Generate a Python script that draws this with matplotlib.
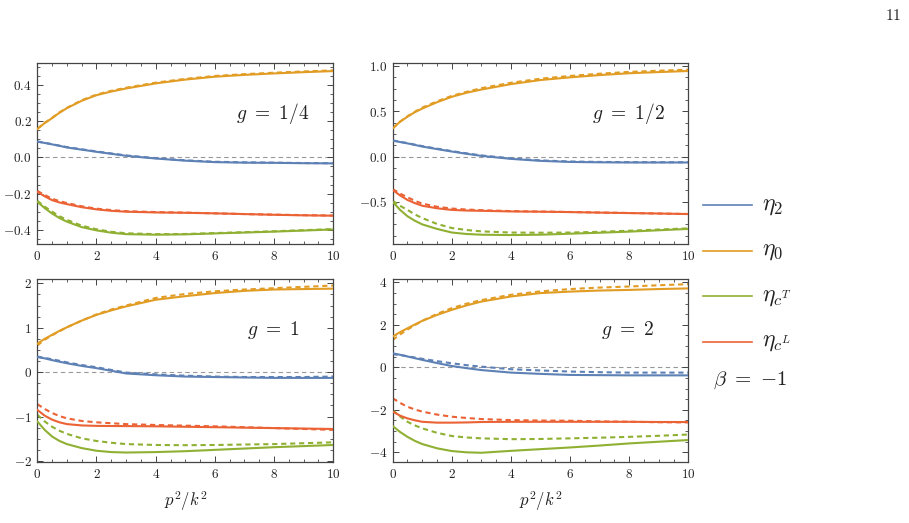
import matplotlib
matplotlib.use("Agg")
import matplotlib.pyplot as plt
from matplotlib.ticker import MultipleLocator, FixedLocator, FixedFormatter

plt.rcParams['mathtext.fontset'] = 'cm'
plt.rcParams['font.family'] = ['DejaVu Serif']

# ---------------- data ----------------
x = [0, 0.25, 0.5, 0.75, 1, 1.5, 2, 2.5, 3, 4, 5, 6, 7, 8, 9, 10]

panel_titles = [r'$g\ =\ 1/4$', r'$g\ =\ 1/2$', r'$g\ =\ 1$', r'$g\ =\ 2$']

# g = 1/4
eta0_a   = [0.157, 0.19, 0.217, 0.247, 0.272, 0.313, 0.344, 0.364, 0.381, 0.409, 0.43, 0.446, 0.456, 0.464, 0.471, 0.477]
eta0_a_d = [0.158, 0.191, 0.219, 0.249, 0.274, 0.316, 0.347, 0.368, 0.385, 0.413, 0.434, 0.450, 0.460, 0.468, 0.475, 0.481]
eta2_a   = [0.087, 0.080, 0.072, 0.064, 0.055, 0.043, 0.031, 0.020, 0.009, -0.006, -0.018, -0.026, -0.029, -0.030, -0.032, -0.033]
eta2_a_d = [0.088, 0.081, 0.073, 0.065, 0.057, 0.045, 0.033, 0.022, 0.011, -0.004, -0.016, -0.024, -0.027, -0.029, -0.031, -0.032]
etaL_a   = [-0.19, -0.215, -0.236, -0.249, -0.258, -0.275, -0.287, -0.295, -0.30, -0.304, -0.306, -0.309, -0.313, -0.317, -0.320, -0.322]
etaL_a_d = [-0.185, -0.208, -0.228, -0.242, -0.252, -0.27, -0.283, -0.291, -0.297, -0.302, -0.305, -0.309, -0.313, -0.316, -0.319, -0.321]
etaT_a   = [-0.245, -0.28, -0.31, -0.335, -0.355, -0.385, -0.403, -0.416, -0.424, -0.427, -0.425, -0.42, -0.415, -0.41, -0.404, -0.398]
etaT_a_d = [-0.24, -0.272, -0.30, -0.325, -0.345, -0.377, -0.397, -0.411, -0.419, -0.424, -0.423, -0.418, -0.413, -0.408, -0.402, -0.396]

# g = 1/2
eta0_b   = [0.31, 0.385, 0.44, 0.49, 0.53, 0.60, 0.66, 0.705, 0.74, 0.80, 0.845, 0.875, 0.90, 0.92, 0.933, 0.945]
eta0_b_d = [0.31, 0.385, 0.445, 0.495, 0.54, 0.61, 0.67, 0.715, 0.755, 0.815, 0.86, 0.89, 0.915, 0.935, 0.948, 0.96]
eta2_b   = [0.176, 0.16, 0.145, 0.128, 0.11, 0.082, 0.055, 0.03, 0.007, -0.026, -0.048, -0.06, -0.064, -0.066, -0.066, -0.066]
eta2_b_d = [0.178, 0.163, 0.148, 0.131, 0.115, 0.087, 0.06, 0.035, 0.012, -0.02, -0.043, -0.055, -0.06, -0.062, -0.063, -0.063]
etaL_b   = [-0.37, -0.43, -0.48, -0.515, -0.544, -0.572, -0.59, -0.597, -0.60, -0.607, -0.61, -0.614, -0.62, -0.625, -0.63, -0.636]
etaL_b_d = [-0.36, -0.41, -0.45, -0.49, -0.52, -0.555, -0.575, -0.586, -0.593, -0.603, -0.608, -0.613, -0.619, -0.624, -0.63, -0.635]
etaT_b   = [-0.50, -0.59, -0.66, -0.71, -0.75, -0.80, -0.84, -0.856, -0.864, -0.868, -0.864, -0.853, -0.842, -0.83, -0.815, -0.80]
etaT_b_d = [-0.49, -0.545, -0.59, -0.64, -0.68, -0.745, -0.79, -0.812, -0.827, -0.84, -0.842, -0.84, -0.832, -0.82, -0.807, -0.794]

# g = 1
eta0_c   = [0.64, 0.75, 0.84, 0.93, 1.01, 1.16, 1.29, 1.39, 1.48, 1.63, 1.71, 1.78, 1.83, 1.86, 1.87, 1.88]
eta0_c_d = [0.60, 0.73, 0.83, 0.92, 1.01, 1.16, 1.30, 1.41, 1.50, 1.67, 1.76, 1.82, 1.86, 1.89, 1.92, 1.95]
eta2_c   = [0.34, 0.31, 0.27, 0.235, 0.20, 0.14, 0.09, 0.03, -0.03, -0.07, -0.10, -0.11, -0.12, -0.13, -0.13, -0.13]
eta2_c_d = [0.35, 0.32, 0.29, 0.255, 0.22, 0.16, 0.11, 0.05, -0.01, -0.05, -0.08, -0.10, -0.11, -0.11, -0.11, -0.10]
etaL_c   = [-0.85, -0.98, -1.07, -1.13, -1.17, -1.20, -1.21, -1.213, -1.215, -1.22, -1.23, -1.24, -1.25, -1.26, -1.27, -1.28]
etaL_c_d = [-0.72, -0.83, -0.92, -0.99, -1.04, -1.10, -1.13, -1.15, -1.17, -1.19, -1.205, -1.22, -1.24, -1.26, -1.28, -1.30]
etaT_c   = [-1.11, -1.30, -1.45, -1.55, -1.62, -1.71, -1.77, -1.80, -1.81, -1.80, -1.78, -1.75, -1.72, -1.69, -1.665, -1.64]
etaT_c_d = [-0.96, -1.11, -1.23, -1.32, -1.39, -1.49, -1.55, -1.59, -1.62, -1.64, -1.645, -1.64, -1.63, -1.62, -1.60, -1.58]

# g = 2
eta0_d   = [1.45, 1.66, 1.84, 2.02, 2.19, 2.47, 2.71, 2.92, 3.10, 3.34, 3.50, 3.57, 3.62, 3.65, 3.69, 3.72]
eta0_d_d = [1.29, 1.55, 1.78, 1.99, 2.19, 2.52, 2.79, 3.00, 3.17, 3.42, 3.58, 3.69, 3.76, 3.81, 3.87, 3.92]
eta2_d   = [0.66, 0.59, 0.51, 0.43, 0.35, 0.20, 0.06, -0.04, -0.13, -0.25, -0.31, -0.36, -0.37, -0.38, -0.38, -0.38]
eta2_d_d = [0.62, 0.58, 0.52, 0.46, 0.40, 0.29, 0.19, 0.10, 0.03, -0.09, -0.15, -0.20, -0.23, -0.25, -0.25, -0.25]
etaL_d   = [-2.09, -2.28, -2.41, -2.50, -2.57, -2.61, -2.61, -2.60, -2.58, -2.57, -2.57, -2.57, -2.57, -2.57, -2.58, -2.58]
etaL_d_d = [-1.46, -1.68, -1.86, -1.99, -2.09, -2.23, -2.33, -2.39, -2.44, -2.49, -2.51, -2.52, -2.55, -2.57, -2.59, -2.60]
etaT_d   = [-2.77, -3.05, -3.28, -3.47, -3.62, -3.82, -3.95, -4.01, -4.03, -3.94, -3.86, -3.78, -3.69, -3.59, -3.51, -3.43]
etaT_d_d = [-2.02, -2.32, -2.57, -2.74, -2.88, -3.09, -3.24, -3.31, -3.35, -3.39, -3.38, -3.35, -3.32, -3.28, -3.23, -3.17]

panels = [
    [(eta2_a, eta2_a_d), (eta0_a, eta0_a_d), (etaT_a, etaT_a_d), (etaL_a, etaL_a_d)],
    [(eta2_b, eta2_b_d), (eta0_b, eta0_b_d), (etaT_b, etaT_b_d), (etaL_b, etaL_b_d)],
    [(eta2_c, eta2_c_d), (eta0_c, eta0_c_d), (etaT_c, etaT_c_d), (etaL_c, etaL_c_d)],
    [(eta2_d, eta2_d_d), (eta0_d, eta0_d_d), (etaT_d, etaT_d_d), (etaL_d, etaL_d_d)],
]

series_labels = [r'$\eta_2$', r'$\eta_0$', r'$\eta_{c^T}$', r'$\eta_{c^L}$']
colors = ['#5E81B5', '#E19C24', '#8FB032', '#EB6235']

yticks = [[0.4, 0.2, 0.0, -0.2, -0.4], [1.0, 0.5, 0.0, -0.5], [2, 1, 0, -1, -2], [4, 2, 0, -2, -4]]
ytick_labels = [['0.4', '0.2', '0.0', '-0.2', '-0.4'], ['1.0', '0.5', '0.0', '-0.5'],
                ['2', '1', '0', '-1', '-2'], ['4', '2', '0', '-2', '-4']]
ylims = [(-0.48, 0.52), (-0.97, 1.03), (-2.03, 2.09), (-4.48, 4.15)]
yminor = [0.05, 0.125, 0.25, 0.5]
xticks = [0, 2, 4, 6, 8, 10]

# ---------------- figure ----------------
W, H = 909, 523
fig = plt.figure(figsize=(W / 100, H / 100), dpi=100)

boxes = [(37.3, 63.3, 333.3, 244.3), (392.7, 63.3, 688.3, 244.3),
         (37.3, 279.3, 333.3, 462.3), (392.7, 279.3, 688.3, 462.3)]
title_pos = [(0.796, 0.725), (0.796, 0.725), (0.796, 0.723), (0.796, 0.723)]

frame_c = '#444444'
for i, (l, t, r, b) in enumerate(boxes):
    ax = fig.add_axes([l / W, 1 - b / H, (r - l) / W, (b - t) / H])
    ax.axhline(0, color='#999999', lw=0.8, ls=(0, (4, 3)), zorder=1)
    for k, (sol, dash) in enumerate(panels[i]):
        ax.plot(x, dash, color=colors[k], lw=1.5, ls=(0, (2.5, 1.8)), zorder=2)
        ax.plot(x, sol, color=colors[k], lw=1.5, zorder=3)
    ax.set_xlim(0, 10)
    ax.set_ylim(*ylims[i])
    ax.xaxis.set_major_locator(FixedLocator(xticks))
    ax.xaxis.set_minor_locator(MultipleLocator(0.5))
    ax.set_xticklabels(['$%d$' % v for v in xticks])
    ax.yaxis.set_major_locator(FixedLocator(yticks[i]))
    ax.yaxis.set_major_formatter(FixedFormatter(['$%s$' % s for s in ytick_labels[i]]))
    ax.yaxis.set_minor_locator(MultipleLocator(yminor[i]))
    ax.tick_params(which='both', direction='in', top=True, right=True, colors=frame_c,
                   labelcolor='#222222', labelsize=9.5, pad=4)
    ax.tick_params(which='major', length=4, width=0.7)
    ax.tick_params(which='minor', length=2.2, width=0.6)
    for s in ax.spines.values():
        s.set_color(frame_c)
        s.set_linewidth(0.9)
    ax.text(title_pos[i][0], title_pos[i][1], panel_titles[i], transform=ax.transAxes,
            ha='center', va='center', fontsize=14, color='#222222')
    if i >= 2:
        ax.set_xlabel(r'$p^2/k^2$', fontsize=12, color='#222222', labelpad=6)

# legend
leg_y = [205, 250.7, 296, 341.7]
for k in range(4):
    yy = 1 - leg_y[k] / H
    fig.add_artist(plt.Line2D([703 / W, 752 / W], [yy, yy], color=colors[k], lw=1.2))
    fig.text(762 / W, yy, series_labels[k], fontsize=17, ha='left', va='center', color='#222222')
fig.text(750 / W, 1 - 380 / H, r'$\beta\ =\ {-1}$', fontsize=15, ha='center', va='center', color='#222222')

fig.text(893 / W, 1 - 15 / H, '$11$', fontsize=11, ha='center', va='center', color='#222222')

fig.savefig('out.png', dpi=100)
